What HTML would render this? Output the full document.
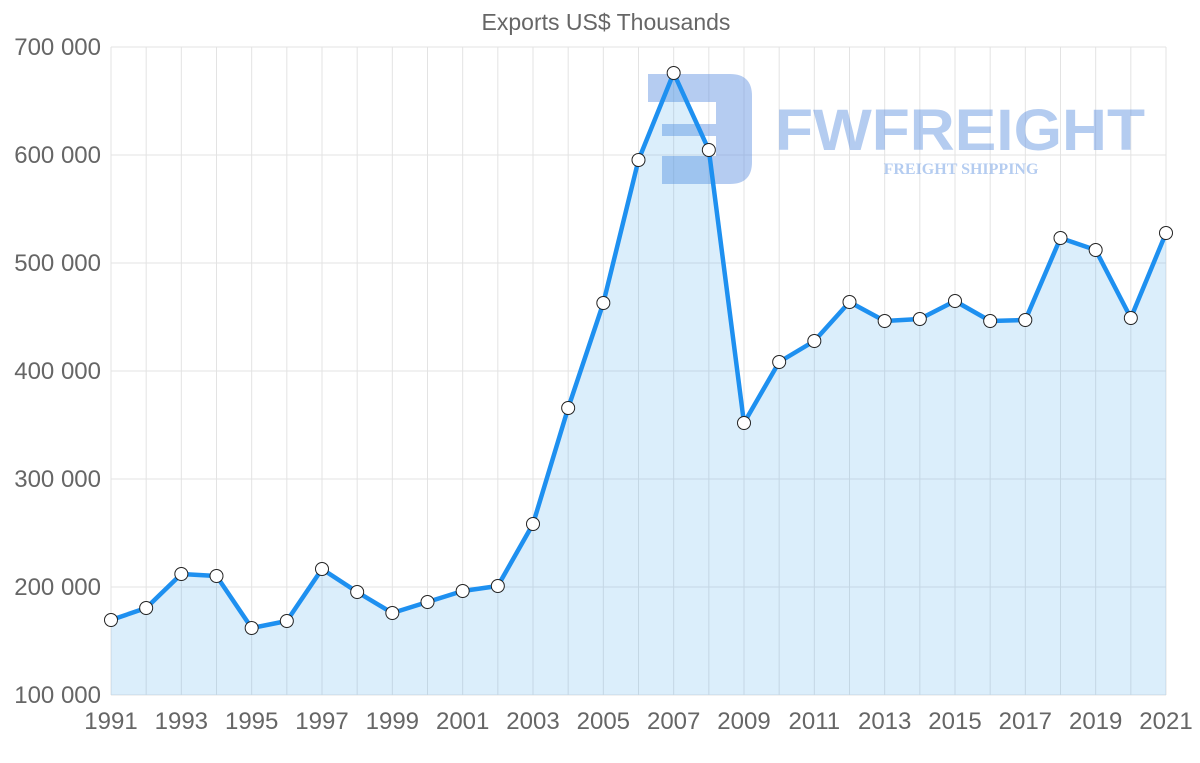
<!DOCTYPE html>
<html><head><meta charset="utf-8"><style>
html,body{margin:0;padding:0;background:#fff;width:1200px;height:763px;overflow:hidden}
svg text{font-family:"Liberation Sans",sans-serif;fill:#666}
</style></head><body>
<svg width="1200" height="763" xmlns="http://www.w3.org/2000/svg">
<text x="606" y="30" font-size="23" text-anchor="middle">Exports US$ Thousands</text>
<g id="grid" stroke="#e3e3e3" stroke-width="1"></g>
<g id="ylab" font-size="24"></g>
<g id="xlab" font-size="24"></g>
<g opacity="0.45">
<path d="M648 74 H730 Q752 74 752 96 V162 Q752 184 730 184 H662 V156 H716 V136 H662 V124 H716 V102 H648 Z" fill="#5b8fe0"/>
<text x="960" y="150" font-size="58" font-weight="bold" text-anchor="middle" style="fill:#5b8fe0" textLength="370" lengthAdjust="spacingAndGlyphs">FWFREIGHT</text>
<text x="961" y="174" font-size="16" font-weight="bold" text-anchor="middle" style="fill:#5b8fe0;font-family:'Liberation Serif',serif">FREIGHT SHIPPING</text>
</g>
<path id="area" fill="rgba(54,162,235,0.18)"/>
<polyline id="line" fill="none" stroke="#1e90f0" stroke-width="4.5" stroke-linejoin="round"/>
<g id="pts"></g>
</svg>
<script>
const ys=[620,608,574,576,628,621,569,592,613,602,591,586,524,408,303,160,73,150,423,362,341,302,321,319,301,321,320,238,250,318,233];
const ns="http://www.w3.org/2000/svg";
const X=i=>111+i*(1055/30);
const g=document.getElementById('grid');
function el(t,a,p){const e=document.createElementNS(ns,t);for(const k in a)e.setAttribute(k,a[k]);p.appendChild(e);return e;}
for(let i=0;i<=30;i++)el('line',{x1:X(i),x2:X(i),y1:47,y2:695},g);
const yl=document.getElementById('ylab');
for(let j=0;j<=6;j++){const y=47+j*108;el('line',{x1:111,x2:1166,y1:y,y2:y},g);
const t=el('text',{x:101,y:y+8,'text-anchor':'end'},yl);t.textContent=(7-j)+'00 000';}
const xl=document.getElementById('xlab');
for(let i=0;i<=30;i+=2){const t=el('text',{x:X(i),y:729,'text-anchor':'middle'},xl);t.textContent=1991+i;}
const pts=ys.map((y,i)=>X(i)+','+y);
document.getElementById('line').setAttribute('points',pts.join(' '));
document.getElementById('area').setAttribute('d','M'+pts.join(' L')+' L1166,695 L111,695 Z');
const pg=document.getElementById('pts');
ys.forEach((y,i)=>el('circle',{cx:X(i),cy:y,r:6.5,fill:'#fff',stroke:'#222','stroke-width':1},pg));
</script>
</body></html>
